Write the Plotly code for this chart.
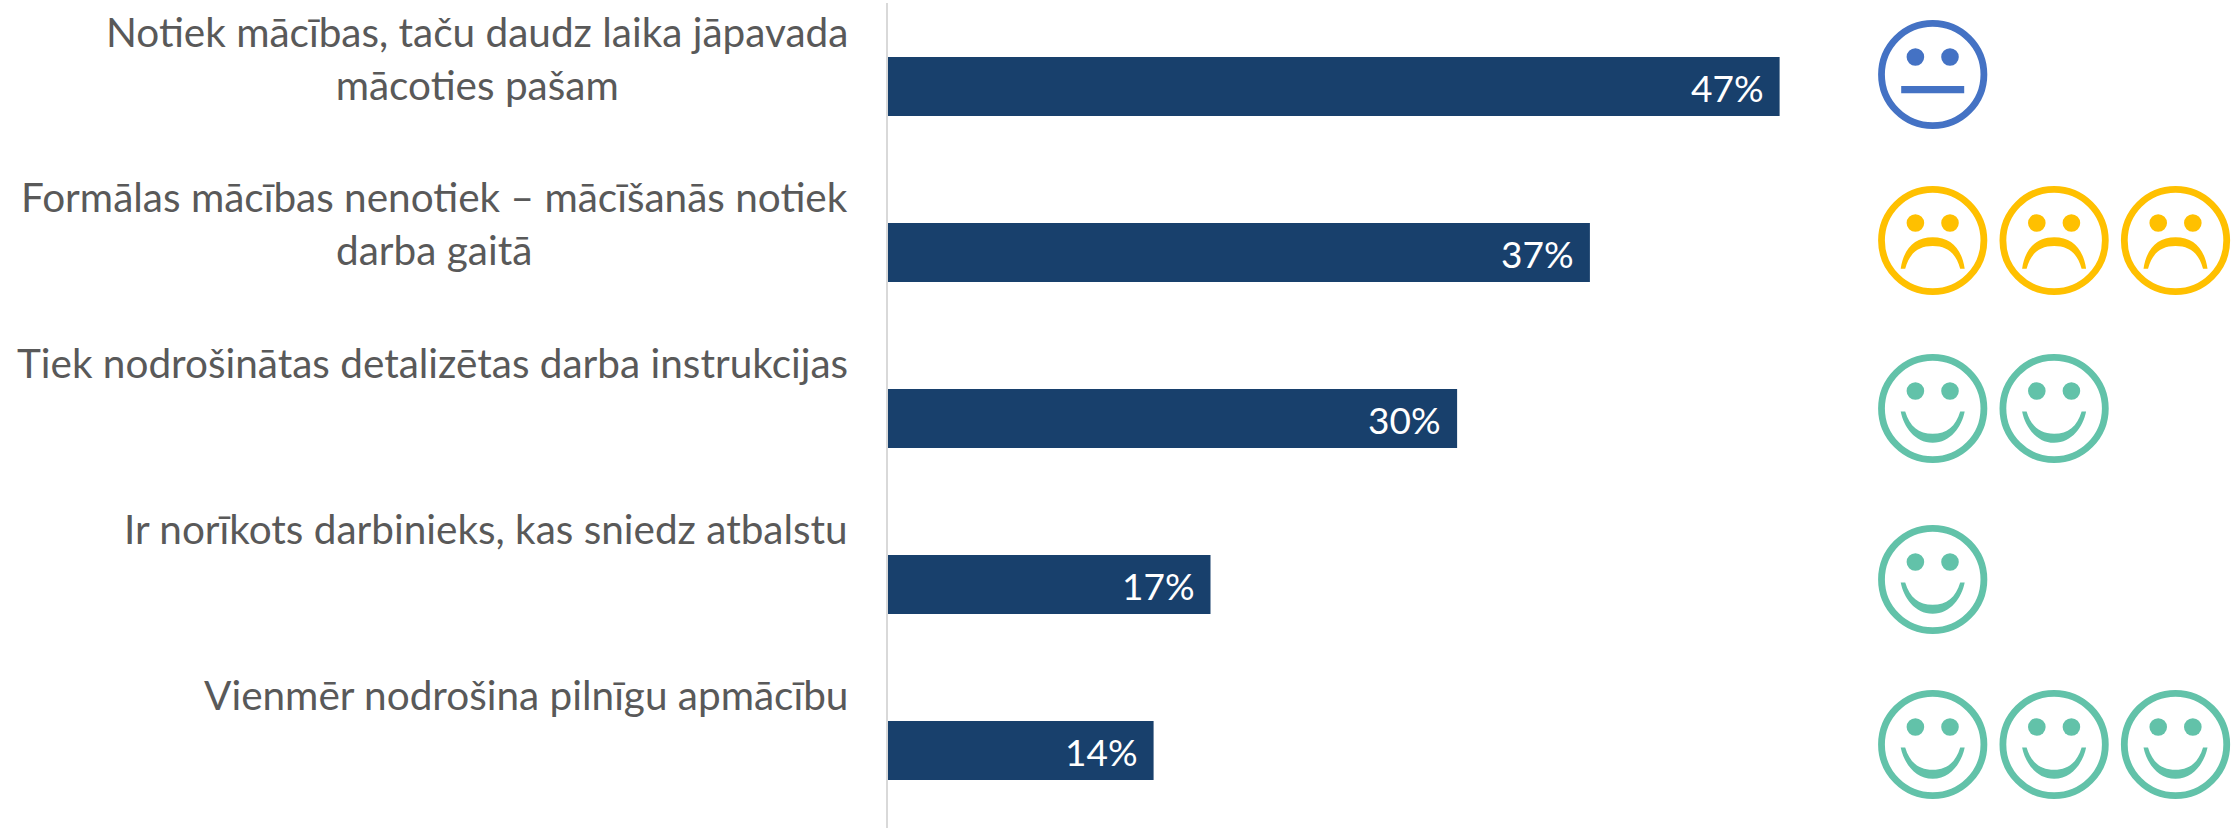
import re
import plotly.graph_objects as go

# ---- data ----
categories = [
    "Notiek mācības, taču daudz laika jāpavada<br>mācoties pašam",
    "Formālas mācības nenotiek – mācīšanās notiek<br>darba gaitā",
    "Tiek nodrošinātas detalizētas darba instrukcijas",
    "Ir norīkots darbinieks, kas sniedz atbalstu",
    "Vienmēr nodrošina pilnīgu apmācību",
]
values = [47, 37, 30, 17, 14]
value_labels = ["47%", "37%", "30%", "17%", "14%"]
face_kinds = ["neutral", "sad", "happy", "happy", "happy"]
face_counts = [1, 3, 2, 1, 3]

# ---- style ----
BAR = "#18406C"
TEXT = "#595959"
FACE_COLOR = {"neutral": "#4472C4", "sad": "#FFC000", "happy": "#62C2A9"}
MOUTH = {
    "neutral": "M-31.5,-11.5 L31.5,-11.5 L31.5,-18.8 L-31.5,-18.8 Z",
    "sad": "M-32,-28.2 C-29,-8 -18,3.2 0,3.2 C18,3.2 29,-8 32,-28.2 L27.5,-28.2 "
           "C23,-12 14,-5.5 0,-5.5 C-14,-5.5 -23,-12 -27.5,-28.2 Z",
    "happy": "M-32,-3 C-29,-18 -18,-34.3 0,-34.3 C18,-34.3 29,-18 32,-3 L27.5,-3 "
             "C23,-18 14,-25.3 0,-25.3 C-14,-25.3 -23,-18 -27.5,-3 Z",
}
FACE_SLOTS = [55.07, 61.47, 67.87]          # x position of the faces, in axis units
FACE_ROW_SHIFT = [12, 12, 10, 5, 6]         # px above the bar centre

rows = list(range(len(categories)))
fig = go.Figure(
    go.Bar(
        x=values, y=rows, orientation="h", width=0.355,
        marker=dict(color=BAR, line=dict(width=0)),
        hoverinfo="skip",
    )
)

annotations = []
for r, label, val, vlabel in zip(rows, categories, values, value_labels):
    annotations.append(dict(
        x=0, y=r, xref="x", yref="y", text=label, showarrow=False,
        xanchor="right", yanchor="top", align="center", xshift=-38, yshift=82,
        font=dict(family="Lato", size=40.5, color=TEXT),
    ))
    annotations.append(dict(
        x=val, y=r, xref="x", yref="y", text=vlabel, showarrow=False,
        xanchor="right", yanchor="middle", xshift=-14, yshift=-1,
        font=dict(family="Lato", size=37, color="#FFFFFF"),
    ))

shapes = []
def add_shape(slot, r, **kw):
    shapes.append(dict(
        xref="x", yref="y", xsizemode="pixel", ysizemode="pixel",
        xanchor=FACE_SLOTS[slot], yanchor=r, **kw))

for r, kind, count, shift in zip(rows, face_kinds, face_counts, FACE_ROW_SHIFT):
    col = FACE_COLOR[kind]
    path = re.sub(r"(-?[\d.]+),(-?[\d.]+)",
                  lambda m: f"{m.group(1)},{float(m.group(2)) + shift}", MOUTH[kind])
    for s in range(count):
        # head
        add_shape(s, r, type="circle",
                  x0=-51.2, x1=51.2, y0=shift - 51.2, y1=shift + 51.2,
                  line=dict(color=col, width=6.8), fillcolor="rgba(0,0,0,0)")
        # eyes
        for ex in (-17.3, 17.3):
            add_shape(s, r, type="circle",
                      x0=ex - 8.8, x1=ex + 8.8, y0=shift + 17.5 - 8.8, y1=shift + 17.5 + 8.8,
                      line=dict(width=0), fillcolor=col)
        # mouth
        add_shape(s, r, type="path", path=path, line=dict(width=0), fillcolor=col)

fig.update_layout(
    width=2233, height=828,
    margin=dict(l=888, r=0, t=3, b=0),
    paper_bgcolor="white", plot_bgcolor="white",
    showlegend=False,
    annotations=annotations, shapes=shapes,
    xaxis=dict(range=[0, 70.9], visible=False, fixedrange=True),
    yaxis=dict(
        range=[4.467, -0.503], showticklabels=False, ticks="", showgrid=False,
        zeroline=False, showline=True, linecolor="#D9D9D9", linewidth=1.5, fixedrange=True,
    ),
)

fig.write_html("out.html", config={"displayModeBar": False},
               post_script="document.body.style.margin='0';")
